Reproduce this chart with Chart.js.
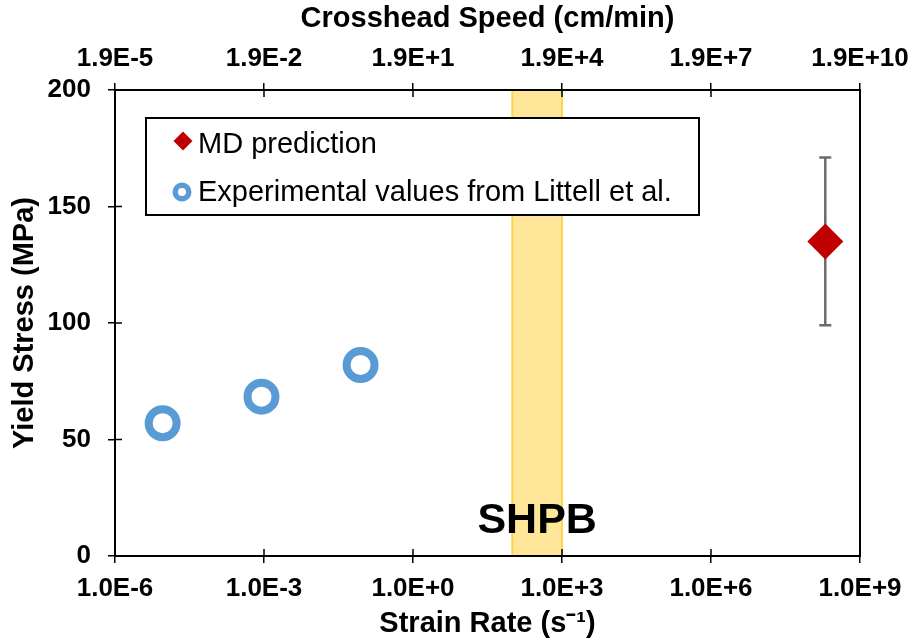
<!DOCTYPE html>
<html>
<head>
<meta charset="utf-8">
<script src="https://cdn.jsdelivr.net/npm/chart.js@4.4.1/dist/chart.umd.min.js"></script>
<style>
  html, body { margin: 0; padding: 0; background: #fff; }
  #wrap { width: 914px; height: 641px; }
</style>
</head>
<body>
<div id="wrap"><canvas id="yieldChart"></canvas></div>
<script>
// strain rate ticks (1/s) and the matching crosshead speed labels
var rateTicks = [1e-6, 1e-3, 1e0, 1e3, 1e6, 1e9];
var rateLabels = ['1.0E-6', '1.0E-3', '1.0E+0', '1.0E+3', '1.0E+6', '1.0E+9'];
var speedLabels = ['1.9E-5', '1.9E-2', '1.9E+1', '1.9E+4', '1.9E+7', '1.9E+10'];
var stressTicks = [0, 50, 100, 150, 200];

// Littell et al. experiments
var expRates = [9.1e-6, 8.9e-4, 8.8e-2];
var expStress = [57, 68.4, 82];

// MD prediction and its spread
var mdRate = [2.0e8];
var mdStress = [135];
var mdError = [36];

// split Hopkinson pressure bar range
var shpbRange = [100, 1000];

var FONT = "'Liberation Sans', Arial, sans-serif";

var shpbBand = {
    id: 'shpbBand',
    beforeDraw: function (chart) {
        var x = chart.scales.x, a = chart.chartArea, c = chart.ctx;
        var x0 = x.getPixelForValue(shpbRange[0]);
        var x1 = x.getPixelForValue(shpbRange[1]);
        c.save();
        c.fillStyle = '#FFE699';
        c.fillRect(x0, a.top, x1 - x0, a.bottom - a.top);
        c.strokeStyle = '#FFD54F';
        c.lineWidth = 2;
        c.beginPath();
        c.moveTo(x0, a.top); c.lineTo(x0, a.bottom);
        c.moveTo(x1, a.top); c.lineTo(x1, a.bottom);
        c.stroke();
        c.fillStyle = '#000';
        c.font = 'bold 43px ' + FONT;
        c.textAlign = 'center';
        c.textBaseline = 'alphabetic';
        c.fillText('SHPB', (x0 + x1) / 2, a.bottom - 23);
        c.restore();
    }
};

// box round the plot plus the inner half of each tick
var frame = {
    id: 'frame',
    beforeDatasetsDraw: function (chart) {
        var a = chart.chartArea, c = chart.ctx, x = chart.scales.x, y = chart.scales.y;
        c.save();
        c.strokeStyle = '#000';
        c.lineWidth = 2;
        c.strokeRect(a.left, a.top, a.right - a.left, a.bottom - a.top);
        c.lineWidth = 1.5;
        c.beginPath();
        x.ticks.forEach(function (t) {
            var px = x.getPixelForValue(t.value);
            c.moveTo(px, a.bottom); c.lineTo(px, a.bottom - 7);
            c.moveTo(px, a.top); c.lineTo(px, a.top + 7);
        });
        y.ticks.forEach(function (t) {
            var py = y.getPixelForValue(t.value);
            c.moveTo(a.left, py); c.lineTo(a.left + 7, py);
        });
        c.stroke();
        c.restore();
    }
};

var errorBars = {
    id: 'errorBars',
    beforeDatasetsDraw: function (chart) {
        var x = chart.scales.x, y = chart.scales.y, c = chart.ctx;
        c.save();
        c.strokeStyle = '#6B6B6B';
        c.lineWidth = 2.5;
        mdRate.forEach(function (r, i) {
            var px = x.getPixelForValue(r);
            var top = y.getPixelForValue(mdStress[i] + mdError[i]);
            var bot = y.getPixelForValue(mdStress[i] - mdError[i]);
            c.beginPath();
            c.moveTo(px, top); c.lineTo(px, bot);
            c.moveTo(px - 6, top); c.lineTo(px + 6, top);
            c.moveTo(px - 6, bot); c.lineTo(px + 6, bot);
            c.stroke();
        });
        c.restore();
    }
};

var legendBox = {
    id: 'legendBox',
    afterDatasetsDraw: function (chart) {
        var c = chart.ctx, a = chart.chartArea;
        var left = a.left + 31, top = a.top + 28, w = 553, h = 97;
        var ds = chart.data.datasets;
        c.save();
        c.fillStyle = '#fff';
        c.fillRect(left, top, w, h);
        c.strokeStyle = '#000';
        c.lineWidth = 2;
        c.strokeRect(left, top, w, h);

        // diamond
        var mx = left + 37, my = top + 23;
        c.fillStyle = ds[0].backgroundColor;
        c.beginPath();
        c.moveTo(mx, my - 9.5); c.lineTo(mx + 9.5, my);
        c.lineTo(mx, my + 9.5); c.lineTo(mx - 9.5, my);
        c.closePath();
        c.fill();

        // ring
        c.strokeStyle = ds[1].borderColor;
        c.lineWidth = 5.5;
        c.beginPath();
        c.arc(mx - 1, top + 74, 6.75, 0, Math.PI * 2);
        c.stroke();

        c.fillStyle = '#000';
        c.font = '29px ' + FONT;
        c.textAlign = 'left';
        c.textBaseline = 'alphabetic';
        c.fillText(ds[0].label, left + 52, top + 35);
        c.fillText(ds[1].label, left + 52, top + 83);
        c.restore();
    }
};

var tickFont = { family: FONT, size: 26, weight: 'bold' };
var titleFont = { family: FONT, size: 29, weight: 'bold' };

function fixedTicks(scale) {
    scale.ticks = rateTicks.map(function (v) { return { value: v }; });
}

// keep the last tick label from pulling the plot in
function xFit(h) {
    return function (s) {
        s.height = h;
        s.paddingLeft = 0;
        s.paddingRight = 0;
    };
}

new Chart(document.getElementById('yieldChart'), {
    type: 'scatter',
    data: {
        datasets: [{
            label: 'MD prediction',
            data: mdRate.map(function (r, i) { return { x: r, y: mdStress[i] }; }),
            pointStyle: 'rectRot',
            pointRadius: 18,
            backgroundColor: '#C00000',
            borderColor: '#C00000',
            borderWidth: 0
        },
        {
            label: 'Experimental values from Littell et al.',
            data: expRates.map(function (r, i) { return { x: r, y: expStress[i] }; }),
            pointStyle: 'circle',
            pointRadius: 14,
            borderWidth: 8,
            borderColor: '#5B9BD5',
            backgroundColor: '#fff'
        }]
    },
    options: {
        responsive: true,
        maintainAspectRatio: false,
        animation: false,
        layout: { padding: { left: 0, right: 54, top: 0, bottom: 0 } },
        plugins: { legend: { display: false }, tooltip: { enabled: false } },
        scales: {
            x: {
                type: 'logarithmic',
                position: 'bottom',
                min: 1e-6,
                max: 1e9,
                afterBuildTicks: fixedTicks,
                afterFit: xFit(85),
                ticks: {
                    callback: function (v, i) { return rateLabels[i]; },
                    color: '#000', font: tickFont, padding: 10,
                    maxRotation: 0, autoSkip: false
                },
                grid: { drawOnChartArea: false, tickLength: 7, color: '#000', lineWidth: 1.5 },
                border: { color: '#000', width: 2 },
                title: { display: true, text: 'Strain Rate (s⁻¹)', color: '#000', font: titleFont, padding: { top: 0, bottom: 0 } }
            },
            x2: {
                type: 'logarithmic',
                position: 'top',
                min: 1e-6,
                max: 1e9,
                afterBuildTicks: fixedTicks,
                afterFit: xFit(90),
                ticks: {
                    callback: function (v, i) { return speedLabels[i]; },
                    color: '#000', font: tickFont, padding: 9,
                    maxRotation: 0, autoSkip: false
                },
                grid: { drawOnChartArea: false, tickLength: 7, color: '#000', lineWidth: 1.5 },
                border: { color: '#000', width: 2 },
                title: { display: true, text: 'Crosshead Speed (cm/min)', color: '#000', font: titleFont, padding: { top: 2, bottom: 0 } }
            },
            y: {
                min: 0,
                max: 200,
                afterBuildTicks: function (s) { s.ticks = stressTicks.map(function (v) { return { value: v }; }); },
                afterFit: function (s) { s.width = 115; },
                ticks: { color: '#000', font: tickFont, padding: 17 },
                grid: { drawOnChartArea: false, tickLength: 7, color: '#000', lineWidth: 1.5 },
                border: { color: '#000', width: 2 },
                title: { display: true, text: 'Yield Stress (MPa)', color: '#000', font: titleFont, padding: { top: 8, bottom: 0 } }
            }
        }
    },
    plugins: [shpbBand, frame, errorBars, legendBox]
});
</script>
</body>
</html>
